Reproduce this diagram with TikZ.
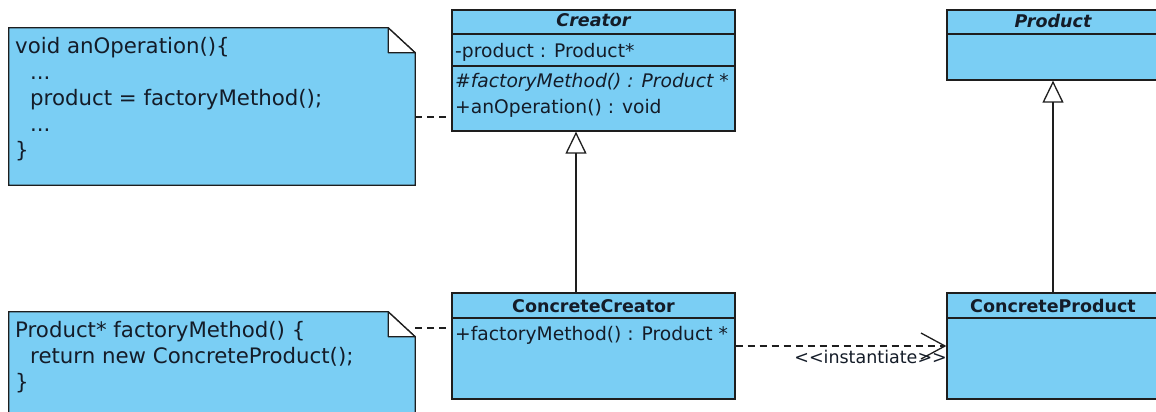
\documentclass[tikz,border=0pt]{standalone}
\usepackage{fontspec}
\setmainfont{DejaVu Sans}
\usetikzlibrary{arrows.meta}
\definecolor{umlblue}{RGB}{122,206,244}
\definecolor{umlline}{RGB}{30,30,30}
\definecolor{umltext}{RGB}{20,28,40}
\tikzstyle{cls}=[draw=umlline,fill=umlblue,line width=1.3pt,inner sep=0pt]
\tikzstyle{compline}=[draw=umlline,line width=1.3pt]
\tikzstyle{notearea}=[inner sep=0pt]
\tikzstyle{notebox}=[draw=umlline,fill=umlblue,line width=1.3pt]
\tikzstyle{notefold}=[draw=umlline,fill=white,line width=1.3pt,line join=round]
\tikzstyle{ntxt}=[anchor=base west,inner sep=0pt,text=umltext,font=\fontsize{21.3}{26}\selectfont]
\tikzstyle{ctxt}=[anchor=base west,inner sep=0pt,text=umltext,font=\fontsize{18.7}{22}\selectfont]
\tikzstyle{clshead}=[anchor=base,inner sep=0pt,text=umltext,font=\fontsize{17.5}{20}\selectfont\bfseries]
\tikzstyle{notelink}=[draw=umlline,line width=1.3pt,dash pattern=on 7pt off 5pt]
\tikzstyle{genarrow}=[draw=umlline,line width=1.3pt,-{Triangle[open,length=22pt,width=21pt]}]
\tikzstyle{deparrow}=[notelink,-{Straight Barb[length=24pt,width=26pt]}]

\begin{document}
\begin{tikzpicture}[x=1pt,y=-1pt]
\useasboundingbox (0,0) rectangle (1156,412);
\fill[white] (0,0) rectangle (1156,412);
\clip (0,0) rectangle (1156,412);
% notes
\node[notearea,minimum width=406pt,minimum height=157pt] (note1) at (212,106.5) {};
\node[notearea,minimum width=406pt,minimum height=118pt] (note2) at (212,371) {};
\draw[notebox] (note1.north west) -- ([xshift=-27pt]note1.north east) -- ([yshift=-25pt]note1.north east) -- (note1.south east) -- (note1.south west) -- cycle;
\draw[notefold] ([xshift=-27pt]note1.north east) -- ([yshift=-25pt]note1.north east) -- ([xshift=-27pt,yshift=-25pt]note1.north east) -- cycle;
\draw[notebox] (note2.north west) -- ([xshift=-27pt]note2.north east) -- ([yshift=-25pt]note2.north east) -- (note2.south east) -- (note2.south west) -- cycle;
\draw[notefold] ([xshift=-27pt]note2.north east) -- ([yshift=-25pt]note2.north east) -- ([xshift=-27pt,yshift=-25pt]note2.north east) -- cycle;
\node[ntxt] (n1a) at (15,53) {void anOperation()\{};
\node[ntxt] (n1b) at (30,79) {...};
\node[ntxt] (n1c) at (30,105) {product = factoryMethod();};
\node[ntxt] (n1d) at (30,131) {...};
\node[ntxt] (n1e) at (15,157) {\}};
\node[ntxt] (n2a) at (15,337) {Product* factoryMethod() \{};
\node[ntxt] (n2b) at (30,363) {return new ConcreteProduct();};
\node[ntxt] (n2c) at (15,389) {\}};
% classes
\node[cls,minimum width=283pt,minimum height=121pt] (creator) at (593.5,70.5) {};
\node[cls,minimum width=212pt,minimum height=70pt] (product) at (1053,45) {};
\node[cls,minimum width=283pt,minimum height=106pt] (ccreator) at (593.5,346) {};
\node[cls,minimum width=212pt,minimum height=106pt] (cproduct) at (1053,346) {};
\draw[compline] (creator.west |- 0,34) -- (creator.east |- 0,34);
\draw[compline] (creator.west |- 0,66) -- (creator.east |- 0,66);
\draw[compline] (product.west |- 0,34) -- (product.east |- 0,34);
\draw[compline] (ccreator.west |- 0,318) -- (ccreator.east |- 0,318);
\draw[compline] (cproduct.west |- 0,318) -- (cproduct.east |- 0,318);
\node[clshead,font=\fontsize{17.5}{20}\selectfont\bfseries\itshape] (creatorname) at (593.5,27) {Creator};
\node[ctxt] (creatorattr) at (455,57) {-product : Product*};
\node[ctxt,font=\fontsize{18.7}{22}\selectfont\itshape] (creatorop1) at (455,88) {\#factoryMethod() : Product *};
\node[ctxt] (creatorop2) at (455,113) {+anOperation() : void};
\node[clshead,font=\fontsize{17.5}{20}\selectfont\bfseries\itshape] (productname) at (1053,28) {Product};
\node[clshead] (ccreatorname) at (593.5,312) {ConcreteCreator};
\node[ctxt] (ccreatorop) at (455,340) {+factoryMethod() : Product *};
\node[clshead] (cproductname) at (1053,312) {ConcreteProduct};
% connectors
\coordinate (n1end) at (415,117);
\coordinate (n2end) at (415,328);
\draw[notelink] (n1end) -- (n1end -| creator.west);
\draw[notelink] (n2end) -- (n2end -| ccreator.west);
\draw[genarrow] ([xshift=-17.5pt]ccreator.north) -- ([xshift=-17.5pt]creator.south);
\draw[genarrow] (cproduct.north) -- (product.south);
\draw[deparrow] (ccreator.east) -- (cproduct.west);
\node[anchor=base east,inner sep=0pt,text=umltext,font=\fontsize{17.5}{20}\selectfont] (instlabel) at (947,363) {<\kern0pt<instantiate>\kern0pt>};
\end{tikzpicture}
\end{document}
